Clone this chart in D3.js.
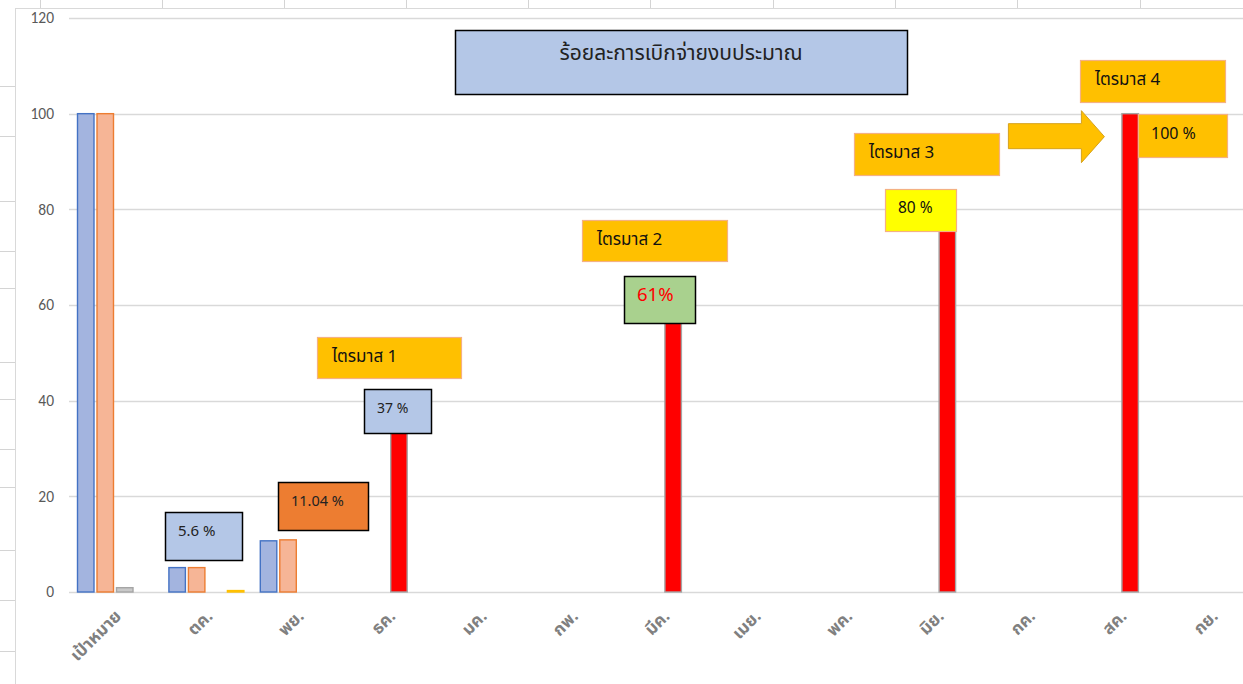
<!DOCTYPE html>
<html>
<head>
<meta charset="utf-8">
<script src="https://cdn.jsdelivr.net/npm/d3@7"></script>
<style>
  body { margin: 0; background: #fff; }
  svg { display: block; font-family: Tahoma, "Noto Sans Thai", "Leelawadee UI", "Noto Sans", sans-serif; }
</style>
</head>
<body>
<svg id="chart" width="1243" height="684"></svg>
<script>
// categories (months of fiscal year)
var months = ["เป้าหมาย", "ตค.", "พย.", "ธค.", "มค.", "กพ.", "มีค.", "เมย.", "พค.", "มิย.", "กค.", "สค.", "กย."];

// series values (null = no bar)
var series1 = [100, 5.1, 10.7, null, null, null, null, null, null, null, null, null, null];
var series2 = [100, 5.1, 10.9, null, null, null, null, null, null, null, null, null, null];
var series3 = [0.9, null, null, 37, null, null, 61, null, null, 80, null, 100, null];
var series4 = [null, 0.3, null, null, null, null, null, null, null, null, null, null, null];

var yTicks = [0, 20, 40, 60, 80, 100, 120];

var titleText = "ร้อยละการเบิกจ่ายงบประมาณ";

// text boxes laid over the chart
var notes = [
  { text: "5.6 %", cat: "ตค.", val: 5.6, dx: -41, dy: -53, w: 77, h: 48, fill: "#b4c7e7", stroke: "#000", color: "#222", size: 15 },
  { text: "11.04 %", cat: "พย.", val: 11.04, dx: -20, dy: -57, w: 90, h: 48, fill: "#ed7d31", stroke: "#000", color: "#222", size: 14.5 },
  { text: "ไตรมาส 1", cat: "ธค.", val: 37, dx: -72, dy: -78, w: 144, h: 41, fill: "#ffc000", stroke: "#f4b183", color: "#111", size: 17 },
  { text: "37 %", cat: "ธค.", val: 37, dx: -25, dy: -26, w: 67, h: 44, fill: "#b4c7e7", stroke: "#000", color: "#222", size: 14 },
  { text: "ไตรมาส 2", cat: "มีค.", val: 61, dx: -81, dy: -80, w: 145, h: 41, fill: "#ffc000", stroke: "#f4b183", color: "#111", size: 17 },
  { text: "61%", cat: "มีค.", val: 61, dx: -39, dy: -24, w: 71, h: 47, fill: "#a9d18e", stroke: "#000", color: "#ff0000", size: 18.5 },
  { text: "ไตรมาส 3", cat: "มิย.", val: 80, dx: -84, dy: -76, w: 145, h: 42, fill: "#ffc000", stroke: "#f4b183", color: "#111", size: 17 },
  { text: "80 %", cat: "มิย.", val: 80, dx: -53, dy: -20, w: 71, h: 42, fill: "#ffff00", stroke: "#f4b183", color: "#111", size: 15.5 },
  { text: "ไตรมาส 4", cat: "สค.", val: 100, dx: -40, dy: -54, w: 145, h: 42, fill: "#ffc000", stroke: "#f4b183", color: "#111", size: 17 },
  { text: "100 %", cat: "สค.", val: 100, dx: 18, dy: 0, w: 89, h: 43, fill: "#ffc000", stroke: "#f4b183", color: "#111", size: 16 }
];

var svg = d3.select("#chart");

// ---- spreadsheet background behind the chart object ----
var colLines = [40, 162, 284, 406, 528, 650, 773, 895, 1017, 1140];
colLines.forEach(function(cx) {
  svg.append("line").attr("x1", cx + 0.5).attr("x2", cx + 0.5).attr("y1", 0).attr("y2", 8)
    .attr("stroke", "#d4d4d4");
});
var rowLines = [86, 136, 201, 251, 288, 362, 399, 449, 487, 550, 600, 651];
rowLines.forEach(function(ry) {
  svg.append("line").attr("x1", 0).attr("x2", 15).attr("y1", ry + 0.5).attr("y2", ry + 0.5)
    .attr("stroke", "#d4d4d4");
});

// chart object frame
svg.append("rect")
  .attr("x", 15.5).attr("y", 8.5)
  .attr("width", 1300).attr("height", 800)
  .attr("fill", "#fff")
  .attr("stroke", "#d9d9d9");

// ---- scales ----
var x = d3.scaleBand()
  .domain(months)
  .range([69.3, 69.3 + 13 * 91.4]);

var x1 = d3.scaleBand()
  .domain([0, 1, 2, 3])
  .range([-37.5, 37.5])
  .paddingInner(0.154);

var y = d3.scaleLinear()
  .domain([0, 120])
  .range([592, 18]);

function cx(m) { return x(m) + x.bandwidth() / 2; }

// gridlines
svg.append("g")
  .selectAll("line")
  .data(yTicks)
  .join("line")
  .attr("x1", 69)
  .attr("x2", 1243)
  .attr("y1", function(d) { return Math.round(y(d)) + 0.5; })
  .attr("y2", function(d) { return Math.round(y(d)) + 0.5; })
  .attr("stroke", "#d9d9d9")
  .attr("stroke-width", 1.3);

// y axis labels
var yAxis = d3.axisLeft(y).tickValues(yTicks).tickSize(0).tickPadding(0);
var gy = svg.append("g").attr("transform", "translate(54,0)").call(yAxis);
gy.select(".domain").remove();
gy.selectAll("text").attr("fill", "#595959").style("font-size", "15.5px")
  .style("font-family", "Calibri, Carlito, 'Liberation Sans', sans-serif");

// ---- bars ----
var seriesStyle = [
  { values: series1, fill: "#a3b4df", stroke: "#4472c4" },
  { values: series2, fill: "#f6b596", stroke: "#ed7d31" },
  { values: series3, fill: "#c9c9c9", stroke: "#a5a5a5" },
  { values: series4, fill: "#ffd966", stroke: "#ffc000" }
];
// third series: individual points coloured red after the target column
var pointFill = function(si, i) {
  if (si === 2 && i > 0) return "#ff0000";
  return seriesStyle[si].fill;
};

seriesStyle.forEach(function(s, si) {
  var pts = s.values.map(function(v, i) { return { m: months[i], v: v, i: i }; })
    .filter(function(d) { return d.v !== null; });
  svg.append("g")
    .selectAll("rect")
    .data(pts)
    .join("rect")
    .attr("x", function(d) { return cx(d.m) + x1(si); })
    .attr("y", function(d) { return y(d.v); })
    .attr("width", x1.bandwidth())
    .attr("height", function(d) { return y(0) - y(d.v); })
    .attr("fill", function(d) { return pointFill(si, d.i); })
    .attr("stroke", s.stroke)
    .attr("stroke-width", 1.4);
});

// x axis labels (rotated)
svg.append("g")
  .selectAll("text")
  .data(months)
  .join("text")
  .attr("transform", function(d) { return "translate(" + (cx(d) + 3) + ",613) rotate(-45)"; })
  .attr("text-anchor", "end")
  .attr("dy", "0.35em")
  .attr("fill", "#808080")
  .style("font-size", "17px")
  .style("font-weight", "bold")
  .text(function(d) { return d; });

// ---- title box ----
svg.append("rect")
  .attr("x", 455.5).attr("y", 30.5)
  .attr("width", 452).attr("height", 64)
  .attr("fill", "#b4c7e7")
  .attr("stroke", "#000")
  .attr("stroke-width", 1.5);
svg.append("text")
  .attr("x", 681).attr("y", 60)
  .attr("text-anchor", "middle")
  .attr("fill", "#222")
  .style("font-size", "21px")
  .text(titleText);

// ---- arrow from quarter 3 to quarter 4 ----
var ax = cx("สค.") - 112, ay = y(100) + 10;
var arrowPts = [
  [ax, ay], [ax + 73, ay], [ax + 73, ay - 13], [ax + 96, ay + 13],
  [ax + 73, ay + 39], [ax + 73, ay + 25], [ax, ay + 25]
];
svg.append("path")
  .attr("d", d3.line()(arrowPts) + "Z")
  .attr("fill", "#ffc000")
  .attr("stroke", "#d6a21c")
  .attr("stroke-width", 1);

// ---- note boxes ----
var ng = svg.append("g")
  .selectAll("g")
  .data(notes)
  .join("g")
  .attr("transform", function(d) {
    return "translate(" + Math.round(cx(d.cat) + d.dx) + "," + Math.round(y(d.val) + d.dy) + ")";
  });
ng.append("rect")
  .attr("x", 0.5).attr("y", 0.5)
  .attr("width", function(d) { return d.w; })
  .attr("height", function(d) { return d.h; })
  .attr("fill", function(d) { return d.fill; })
  .attr("stroke", function(d) { return d.stroke; })
  .attr("stroke-width", function(d) { return d.stroke === "#000" ? 1.5 : 1.2; });
ng.append("text")
  .attr("x", function(d) { return d.text.indexOf("ไตรมาส") === 0 ? 15 : 13; })
  .attr("y", 19)
  .attr("dy", "0.35em")
  .attr("fill", function(d) { return d.color; })
  .style("font-size", function(d) { return d.size + "px"; })
  .text(function(d) { return d.text; });
</script>
</body>
</html>
